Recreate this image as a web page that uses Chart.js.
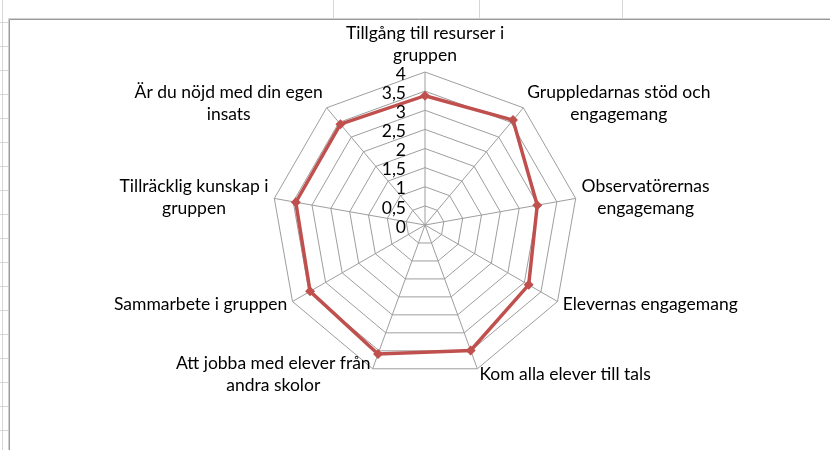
<!DOCTYPE html>
<html>
<head>
<meta charset="utf-8">
<script src="https://cdn.jsdelivr.net/npm/chart.js@4.4.0/dist/chart.umd.min.js"></script>
<style>
  body { margin: 0; background: #fff; }
  #chart { display: block; }
</style>
</head>
<body>
<canvas id="chart" width="830" height="450"></canvas>
<script>
// Data.
const categories = [
  ['Tillgång till resurser i', 'gruppen'],
  ['Gruppledarnas stöd och', 'engagemang'],
  ['Observatörernas', 'engagemang'],
  ['Elevernas engagemang'],
  ['Kom alla elever till tals'],
  ['Att jobba med elever från', 'andra skolor'],
  ['Sammarbete i gruppen'],
  ['Tillräcklig kunskap i', 'gruppen'],
  ['Är du nöjd med din egen', 'insats'],
];
const scores = [3.38, 3.58, 2.98, 3.13, 3.49, 3.59, 3.47, 3.43, 3.44];
const scaleMin = 0;
const scaleMax = 4;
const scaleStep = 0.5;

const labelFont = '17.5px Lato';
const gridColor = '#9e9e9e';
const seriesColor = '#c0504d';

// Spreadsheet bits around the chart object.
const sheetBackground = {
  id: 'sheetBackground',
  beforeDraw(chart) {
    const ctx = chart.ctx;
    ctx.save();
    ctx.fillStyle = '#fff';
    ctx.fillRect(0, 0, chart.width, chart.height);
    ctx.lineWidth = 1;
    ctx.strokeStyle = '#d6d6d6';
    ctx.beginPath();
    ctx.moveTo(2.5, 0);
    ctx.lineTo(2.5, chart.height);
    for (let y = 22.5; y < chart.height; y += 24) {
      ctx.moveTo(0, y);
      ctx.lineTo(9, y);
    }
    [333.5, 479.5, 622.5].forEach(x => {
      ctx.moveTo(x, 0);
      ctx.lineTo(x, 19);
    });
    ctx.stroke();
    ctx.strokeStyle = '#9a9a9a';
    ctx.beginPath();
    ctx.moveTo(9.5, chart.height);
    ctx.lineTo(9.5, 19.5);
    ctx.lineTo(chart.width, 19.5);
    ctx.stroke();
    ctx.strokeStyle = '#d0d0d0';
    ctx.beginPath();
    ctx.moveTo(8.5, chart.height);
    ctx.lineTo(8.5, 18.5);
    ctx.lineTo(chart.width, 18.5);
    ctx.stroke();
    ctx.restore();
  },
};

// Excel-style labels: wrapped, centred lines, placed just outside each spoke.
const axisLabels = {
  id: 'axisLabels',
  afterDraw(chart) {
    const scale = chart.scales.r;
    const ctx = chart.ctx;
    const lineHeight = 22;
    ctx.save();
    ctx.font = labelFont;
    ctx.fillStyle = '#000';
    ctx.textBaseline = 'middle';
    ctx.textAlign = 'center';
    chart.data.labels.forEach((lines, i) => {
      const angle = scale.getIndexAngle(i);
      const pos = scale.getPointPosition(i, scale.drawingArea + 6);
      const sin = Math.sin(angle);
      const cos = Math.cos(angle);
      const blockHeight = lines.length * lineHeight;
      const blockWidth = Math.max(...lines.map(l => ctx.measureText(l).width));
      let top = pos.y - blockHeight / 2;
      if (cos > 0.9) {
        top = pos.y - blockHeight;
      }
      let left = pos.x - blockWidth / 2;
      if (Math.abs(sin) >= 0.1) {
        left = sin > 0 ? pos.x : pos.x - blockWidth;
      }
      lines.forEach((line, j) => {
        ctx.fillText(line, left + blockWidth / 2, top + lineHeight * (j + 0.5));
      });
    });

    // Value labels sit left of the top spoke.
    ctx.textAlign = 'right';
    scale.ticks.forEach(tick => {
      const dist = scale.getDistanceFromCenterForValue(tick.value);
      ctx.fillText(tick.label, scale.xCenter - 19, scale.yCenter - dist + 2);
    });
    ctx.restore();
  },
};

new Chart(document.getElementById('chart'), {
  type: 'radar',
  data: {
    labels: categories,
    datasets: [{
      data: scores,
      borderColor: seriesColor,
      backgroundColor: seriesColor,
      borderWidth: 3.5,
      fill: false,
      pointStyle: 'rectRot',
      pointRadius: 5,
      pointBorderWidth: 0,
      pointBackgroundColor: seriesColor,
    }],
  },
  options: {
    responsive: false,
    animation: false,
    layout: {padding: {left: 272, right: 252, top: 72, bottom: 72}},
    plugins: {legend: {display: false}, tooltip: {enabled: false}},
    scales: {
      r: {
        min: scaleMin,
        max: scaleMax,
        beginAtZero: true,
        ticks: {
          display: false,
          stepSize: scaleStep,
          callback: v => String(v).replace('.', ','),
        },
        pointLabels: {display: false},
        grid: {color: gridColor, lineWidth: 1},
        angleLines: {color: gridColor, lineWidth: 1},
      },
    },
  },
  plugins: [sheetBackground, axisLabels],
});
</script>
</body>
</html>
